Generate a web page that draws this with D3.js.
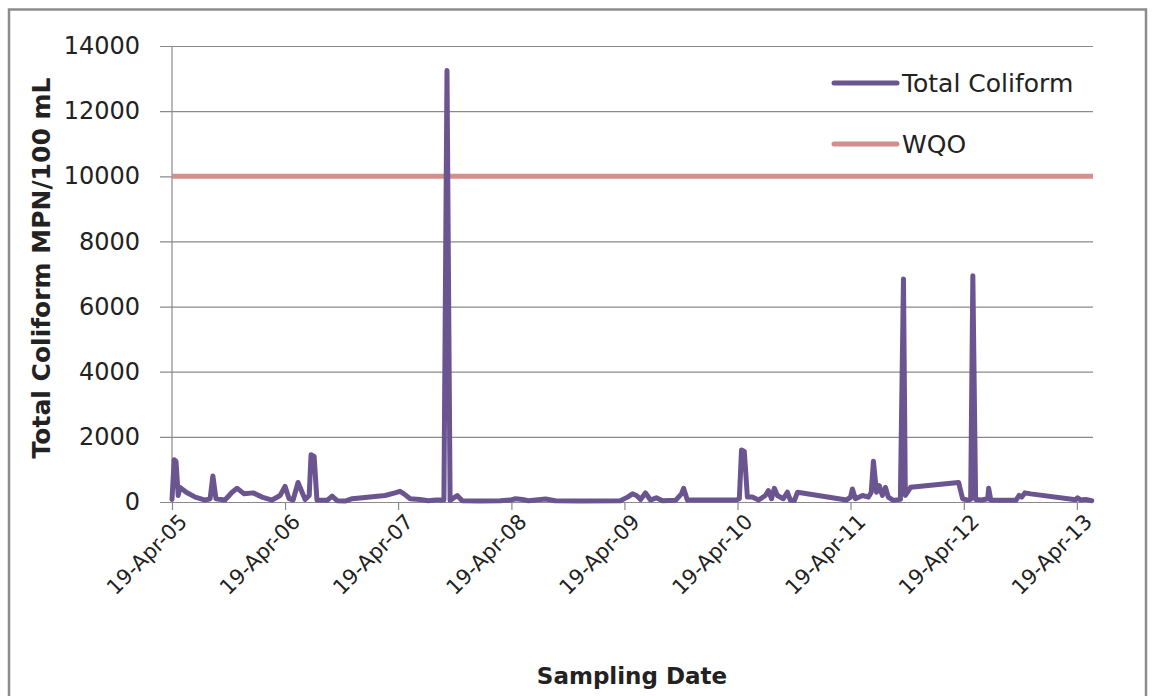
<!DOCTYPE html>
<html>
<head>
<meta charset="utf-8">
<script src="https://cdn.jsdelivr.net/npm/d3@7"></script>
<style>
  body { margin: 0; background: #fff; }
  text { font-family: "DejaVu Sans", sans-serif; fill: #222; }
  .axis-title { font-weight: bold; }
</style>
</head>
<body>
<svg width="1154" height="696"></svg>
<script>
const sampleDates = [
  "2005-04-19","2005-04-26","2005-05-02","2005-05-09","2005-05-15","2005-06-04","2005-07-03","2005-08-04",
  "2005-08-20","2005-08-29","2005-09-08","2005-10-07","2005-10-30","2005-11-15","2005-12-08","2006-01-06",
  "2006-02-04","2006-03-08","2006-04-03","2006-04-19","2006-05-02","2006-05-15","2006-05-31","2006-06-13",
  "2006-06-23","2006-07-06","2006-07-12","2006-07-22","2006-07-31","2006-09-02","2006-09-18","2006-10-04",
  "2006-10-30","2006-11-22","2007-03-08","2007-04-09","2007-04-25","2007-05-08","2007-05-28","2007-06-29",
  "2007-07-25","2007-08-19","2007-09-14","2007-09-24","2007-10-04","2007-10-27","2007-11-12","2008-01-09",
  "2008-03-14","2008-04-16","2008-05-02","2008-05-24","2008-06-13","2008-08-07","2008-09-08","2008-11-28",
  "2009-04-06","2009-04-29","2009-05-15","2009-05-28","2009-06-10","2009-06-26","2009-07-12","2009-07-31",
  "2009-08-20","2009-10-01","2009-10-20","2009-10-27","2009-11-08","2010-04-15","2010-04-25","2010-05-02",
  "2010-05-11","2010-05-21","2010-06-06","2010-06-26","2010-07-18","2010-07-28","2010-08-07","2010-08-16",
  "2010-08-26","2010-09-14","2010-09-27","2010-10-07","2010-10-20","2010-10-30","2011-04-06","2011-04-19",
  "2011-04-25","2011-05-05","2011-05-28","2011-06-16","2011-06-25","2011-07-02","2011-07-12","2011-07-21",
  "2011-07-31","2011-08-10","2011-08-19","2011-09-04","2011-09-27","2011-10-07","2011-10-13","2011-10-30",
  "2012-04-02","2012-04-15","2012-05-01","2012-05-11","2012-05-18","2012-05-27","2012-06-16","2012-07-05",
  "2012-07-08","2012-07-15","2012-08-16","2012-10-04","2012-10-14","2012-10-23","2012-11-02","2012-11-21",
  "2013-04-15","2013-04-21","2013-05-01","2013-05-17","2013-06-06"
];
const coliform = [
  80,1300,1250,200,450,300,150,60,
  100,800,100,60,300,420,250,280,
  150,60,200,480,100,60,600,300,
  80,200,1450,1400,60,50,180,40,
  30,100,200,280,330,250,100,80,
  40,60,60,13250,50,200,40,30,
  40,60,100,80,40,90,40,30,
  40,150,250,200,80,280,60,130,
  40,50,250,420,60,60,100,1600,
  1550,150,150,60,200,350,100,420,
  200,100,300,50,50,300,60,150,
  400,100,200,150,300,1250,300,500,
  200,450,150,50,80,6850,200,450,
  600,100,60,80,6950,80,60,100,
  420,60,50,50,200,150,280,250,
  70,130,60,80,40
];
const wqoValue = 10000;
const yTicks = [0, 2000, 4000, 6000, 8000, 10000, 12000, 14000];
const xTickDates = ["2005-04-19","2006-04-19","2007-04-19","2008-04-19","2009-04-19",
  "2010-04-19","2011-04-19","2012-04-19","2013-04-19"];
const xDomain = ["2005-04-19", "2013-06-10"];
const seriesNames = ["Total Coliform", "WQO"];

const purple = "#6b5591";
const wqoColor = "#d48e8e";

const svg = d3.select("svg");
const margin = { top: 46, left: 172, right: 61, bottom: 194 };
const width = +svg.attr("width");
const height = +svg.attr("height");
const innerWidth = width - margin.left - margin.right;
const innerHeight = height - margin.top - margin.bottom;

const parse = d3.timeParse("%Y-%m-%d");
const data = sampleDates.map((d, i) => ({ date: parse(d), value: coliform[i] }));

// outer chart border (bottom edge is off the picture)
svg.append("path")
  .attr("d", "M9,700 V9.5 H1146 V700")
  .attr("fill", "none")
  .attr("stroke", "#8c8c8c")
  .attr("stroke-width", 2.5);

const xScale = d3.scaleTime()
  .domain(xDomain.map(parse))
  .range([0, innerWidth]);

const yScale = d3.scaleLinear()
  .domain([0, 14000])
  .range([innerHeight, 0]);

const g = svg.append("g")
  .attr("transform", `translate(${margin.left},${margin.top})`);

// y axis with gridlines
const yAxisGroup = g.append("g")
  .call(d3.axisLeft(yScale)
    .tickValues(yTicks)
    .tickFormat(d3.format("d"))
    .tickSize(-innerWidth)
    .tickSizeOuter(0)
    .tickPadding(32));
yAxisGroup.select(".domain").remove();
yAxisGroup.selectAll(".tick line")
  .attr("x1", -12)
  .attr("stroke", "#8a8a8a")
  .attr("stroke-width", 1.2);
yAxisGroup.selectAll(".tick text")
  .attr("font-size", 24)
  .attr("fill", "#222");

g.append("line")
  .attr("x1", 0).attr("x2", 0)
  .attr("y1", 0).attr("y2", innerHeight)
  .attr("stroke", "#8a8a8a")
  .attr("stroke-width", 1.2);

// x axis
const xAxisGroup = g.append("g")
  .attr("transform", `translate(0,${innerHeight})`)
  .call(d3.axisBottom(xScale)
    .tickValues(xTickDates.map(parse))
    .tickFormat(d3.timeFormat("%d-%b-%y"))
    .tickSize(8)
    .tickSizeOuter(0));
xAxisGroup.select(".domain").remove();
xAxisGroup.selectAll(".tick line")
  .attr("stroke", "#8a8a8a")
  .attr("stroke-width", 1.2);
xAxisGroup.selectAll(".tick text")
  .attr("font-size", 21)
  .attr("fill", "#222")
  .attr("text-anchor", "end")
  .attr("dy", 0)
  .attr("y", 0)
  .attr("transform", "translate(16,21) rotate(-45)");

// WQO line
g.append("line")
  .attr("x1", 0).attr("x2", innerWidth)
  .attr("y1", yScale(wqoValue)).attr("y2", yScale(wqoValue))
  .attr("stroke", wqoColor)
  .attr("stroke-width", 5);

// total coliform series
const line = d3.line()
  .x(d => xScale(d.date))
  .y(d => yScale(d.value));

g.append("path")
  .datum(data)
  .attr("d", line)
  .attr("fill", "none")
  .attr("stroke", purple)
  .attr("stroke-width", 5)
  .attr("stroke-linejoin", "round")
  .attr("stroke-linecap", "round");

// legend
const legend = svg.append("g");
const legendColors = [purple, wqoColor];
seriesNames.forEach((name, i) => {
  const y = 83 + i * 61;
  legend.append("line")
    .attr("x1", 834).attr("x2", 897)
    .attr("y1", y).attr("y2", y)
    .attr("stroke", legendColors[i])
    .attr("stroke-width", 5)
    .attr("stroke-linecap", "round");
  legend.append("text")
    .attr("x", 902).attr("y", y)
    .attr("dy", "0.36em")
    .attr("font-size", 25)
    .text(name);
});

// axis titles
svg.append("text")
  .attr("class", "axis-title")
  .attr("x", 632).attr("y", 684)
  .attr("text-anchor", "middle")
  .attr("font-size", 23)
  .text("Sampling Date");

svg.append("text")
  .attr("class", "axis-title")
  .attr("transform", "translate(50,268) rotate(-90)")
  .attr("text-anchor", "middle")
  .attr("font-size", 25)
  .text("Total Coliform MPN/100 mL");
</script>
</body>
</html>
